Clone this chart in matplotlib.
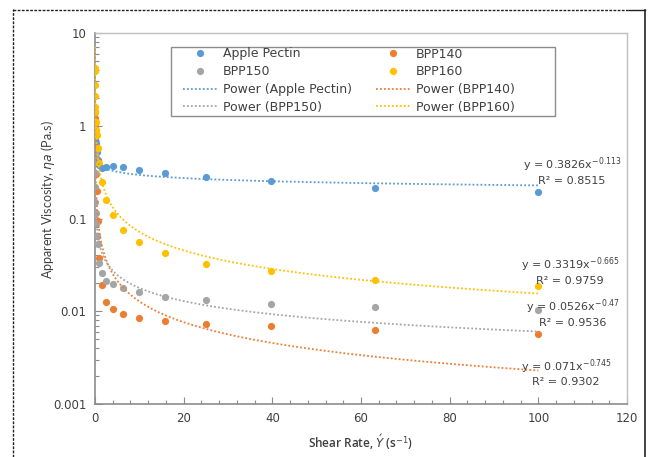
import numpy as np
import matplotlib
matplotlib.use("Agg")
import matplotlib.pyplot as plt
from matplotlib.lines import Line2D
from matplotlib.patches import Rectangle
from matplotlib.ticker import FixedLocator, FixedFormatter, LogLocator, NullFormatter, MultipleLocator

plt.rcParams['font.family'] = ['DejaVu Sans']
plt.rcParams['mathtext.fontset'] = 'dejavusans'

# ---- data ----
shear_rate = [0.01, 0.0158, 0.0251, 0.0398, 0.0631, 0.1, 0.158, 0.251, 0.398, 0.631,
              1.0, 1.58, 2.51, 3.98, 6.31, 10.0, 15.8, 25.1, 39.8, 63.1, 100.0]

apple_pectin = [0.9, 0.85, 0.8, 0.75, 0.7, 0.68, 0.65, 0.61, 0.52, 0.43,
                0.38, 0.35, 0.355, 0.364, 0.359, 0.33, 0.306, 0.282, 0.255, 0.213, 0.191]
bpp140 = [1.4, 1.2, 1.0, 0.87, 0.77, 0.6, 0.45, 0.3, 0.2, 0.093,
          0.0375, 0.019, 0.0126, 0.0106, 0.0093, 0.0085, 0.0079, 0.00728, 0.00686, 0.0063, 0.00568]
bpp150 = [0.51, 0.45, 0.41, 0.31, 0.22, 0.15, 0.115, 0.089, 0.064, 0.053,
          0.033, 0.026, 0.0214, 0.0198, 0.0178, 0.0162, 0.0142, 0.0131, 0.012, 0.0111, 0.0102]
bpp160 = [4.2, 3.85, 2.77, 2.07, 1.58, 1.41, 1.1, 0.9, 0.8, 0.58,
          0.4, 0.25, 0.157, 0.11, 0.0743, 0.0552, 0.042, 0.0327, 0.0269, 0.0219, 0.0185]

series_names = ["Apple Pectin", "BPP140", "BPP150", "BPP160"]
series_values = [apple_pectin, bpp140, bpp150, bpp160]
colors = ["#5B9BD5", "#ED7D31", "#A5A5A5", "#FFC000"]

# power-law trendline coefficients y = a * x^b
fit_a = [0.3826, 0.071, 0.0526, 0.3319]
fit_b = [-0.113, -0.745, -0.47, -0.665]
fit_r2 = ["0.8515", "0.9302", "0.9536", "0.9759"]
fit_a_text = ["0.3826", "0.071", "0.0526", "0.3319"]
fit_b_text = ["-0.113", "-0.745", "-0.47", "-0.665"]

x_ticks = [0, 20, 40, 60, 80, 100, 120]
y_ticks = [0.001, 0.01, 0.1, 1, 10]
y_tick_labels = ["0.001", "0.01", "0.1", "1", "10"]

# ---- figure ----
W, H = 649, 457
fig = plt.figure(figsize=(W / 100, H / 100), dpi=100)
ax = fig.add_axes([95 / W, 1 - 404 / H, (627 - 95) / W, (404 - 33) / H])

txt = "#404040"
handles = {}
for name, vals, c in zip(series_names, series_values, colors):
    h, = ax.plot(shear_rate, vals, 'o', color=c, markersize=5.2, markeredgewidth=0,
                 label=name, zorder=3)
    handles[name] = h

xf = np.logspace(np.log10(min(shear_rate)), np.log10(max(shear_rate)), 600)
for name, a, b, c in zip(series_names, fit_a, fit_b, colors):
    h, = ax.plot(xf, a * xf ** b, linestyle=(0, (1, 1.2)), color=c, linewidth=1.3,
                 label=f"Power ({name})", zorder=4)
    handles[f"Power ({name})"] = h

ax.set_yscale('log')
ax.set_xlim(0, 120)
ax.set_ylim(0.001, 10)
ax.xaxis.set_major_locator(FixedLocator(x_ticks))
ax.xaxis.set_minor_locator(MultipleLocator(4))
ax.yaxis.set_major_locator(FixedLocator(y_ticks))
ax.yaxis.set_major_formatter(FixedFormatter(y_tick_labels))
ax.yaxis.set_minor_locator(LogLocator(base=10, subs=np.arange(2, 10)))
ax.yaxis.set_minor_formatter(NullFormatter())

ax.tick_params(axis='both', which='major', direction='in', length=5, width=0.8,
               color="#8c8c8c", labelsize=8.5, labelcolor=txt, pad=6)
ax.tick_params(axis='both', which='minor', direction='in', length=3, width=0.8,
               color="#8c8c8c")
for s in ['left', 'bottom']:
    ax.spines[s].set_color("#8c8c8c")
    ax.spines[s].set_linewidth(1.2)
for s in ['top', 'right']:
    ax.spines[s].set_color("#bfbfbf")
    ax.spines[s].set_linewidth(1.0)

ax.set_xlabel(r"Shear Rate, $\acute{Y}$ (s$^{-1}$)", fontsize=8.5, color=txt,
              family=["Open Sans", "DejaVu Sans"], fontweight='semibold')
ax.xaxis.set_label_coords((361 - 95) / 532, -(432 - 404) / 371)
ax.set_ylabel(r"Apparent Viscosity, $\eta a$ (Pa.s)", fontsize=9, color=txt,
              family=["Lato", "DejaVu Sans"])
ax.yaxis.set_label_coords((57 - 95) / 532, (404 - 200) / 371)

order = ["Apple Pectin", "BPP150", "Power (Apple Pectin)", "Power (BPP150)",
         "BPP140", "BPP160", "Power (BPP140)", "Power (BPP160)"]
leg = ax.legend([handles[k] for k in order], order, ncol=2, loc='upper left',
                bbox_to_anchor=((183 - 95) / 532, 1 - (47.5 - 33) / 371),
                fontsize=9, frameon=False, borderpad=0.0, labelspacing=0.38,
                handlelength=2.75, handletextpad=0.45, columnspacing=1.9,
                borderaxespad=0)
for t in leg.get_texts():
    t.set_color(txt)
leg.set_zorder(6)
# legend box as drawn in the reference
ax.add_patch(Rectangle((171 / W, 1 - 115.7 / H), (555 - 171) / W, (115.7 - 46.7) / H,
                       fill=True, facecolor='white', edgecolor="#8c8c8c", linewidth=1.0,
                       transform=fig.transFigure, zorder=5, clip_on=False))

# trendline equations (figure pixel centres)
eq_pos = {
    "Apple Pectin": ((525 + 620) / 2, 165, (537 + 607) / 2, 180.5),
    "BPP160": ((523 + 617) / 2, 265, (535 + 605) / 2, 281.5),
    "BPP150": ((527 + 618) / 2, 307, (538 + 607) / 2, 322.5),
    "BPP140": ((523 + 610) / 2, 366.5, (531 + 601) / 2, 382),
}
for i, name in enumerate(series_names):
    x1, y1, x2, y2 = eq_pos[name]
    fig.text(x1 / W, 1 - y1 / H, f"y = {fit_a_text[i]}x$^{{{fit_b_text[i]}}}$",
             ha='center', va='center', fontsize=8, color=txt, zorder=6)
    fig.text(x2 / W, 1 - y2 / H, f"R² = {fit_r2[i]}",
             ha='center', va='center', fontsize=8, color=txt, zorder=6)

# outer borders
fig.add_artist(Line2D([13 / W, 13 / W], [0, 1 - 9 / H], color="#222222", linewidth=1.0,
                      linestyle=(0, (2, 1))))
fig.add_artist(Line2D([13 / W, 629 / W], [1 - 9.5 / H, 1 - 9.5 / H], color="#222222",
                      linewidth=1.0, linestyle=(0, (2, 1))))
fig.add_artist(Line2D([629 / W, 645 / W], [1 - 10 / H, 1 - 10 / H], color="#222222",
                      linewidth=1.0))
fig.add_artist(Line2D([645 / W, 645 / W], [0, 1 - 10 / H], color="#222222", linewidth=1.2))

fig.savefig("out.png", dpi=100)
